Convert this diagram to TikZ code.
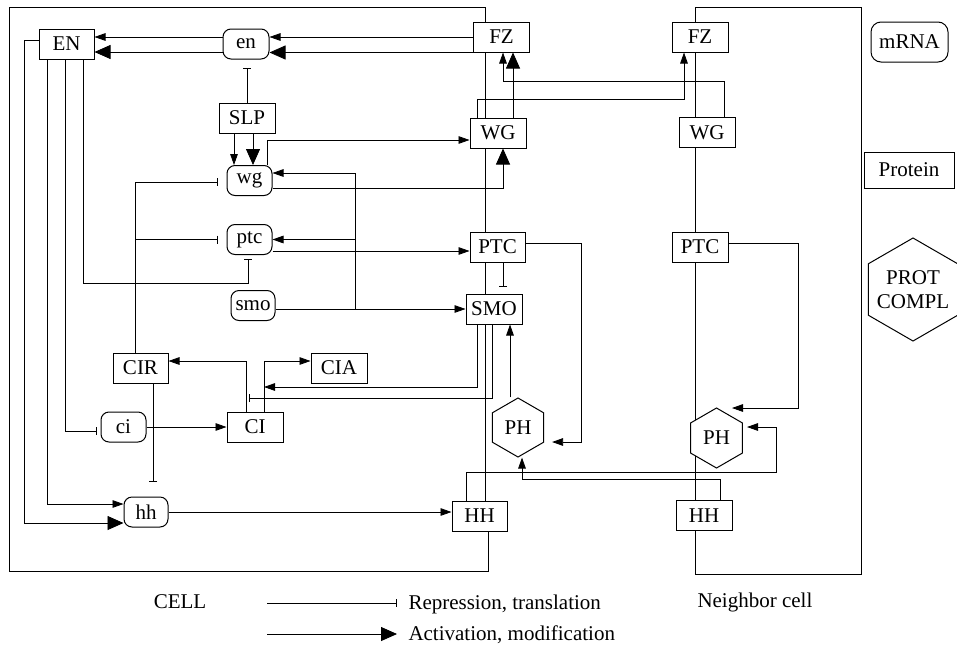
\documentclass[tikz,border=0pt]{standalone}
\usepackage{fontspec}
\setmainfont{Liberation Serif}
\usetikzlibrary{arrows.meta,shapes.geometric}
\pgfdeclarelayer{bg}
\pgfsetlayers{bg,main}
\begin{document}
\begin{tikzpicture}[x=0.5pt,y=-0.5pt,line width=0.5pt,
  font=\fontsize{10.5}{12}\selectfont,
  prot/.style={draw,fill=white,rectangle,minimum width=28pt,minimum height=15pt,inner sep=0pt},
  gene/.style={draw,fill=white,rounded corners=4pt,minimum width=22.5pt,minimum height=15pt,inner sep=0pt},
  hexa/.style={draw,fill=white,regular polygon,regular polygon sides=6,shape border rotate=30,inner sep=0pt},
  lbl/.style={inner sep=0pt},
  act/.style={-{Triangle[length=5.5pt,width=3.8pt]}},
  bigact/.style={-{Triangle[length=8pt,width=7pt]}},
  rep/.style={-{Bar[width=4pt]}}]
\useasboundingbox (0,0) rectangle (957,648);

% ---- left cell nodes
\node[prot,minimum width=27.5pt] (EN) at (66.5,44) {EN};
\node[gene,minimum width=23pt] (en) at (246,44) {en};
\node[prot] (SLP) at (247,118) {SLP};
\node[gene] (wg) at (249.5,180.5) {wg};
\node[gene] (ptc) at (249.5,239.5) {ptc};
\node[gene,minimum width=22pt] (smo) at (253,305.5) {smo};
\node[prot] (FZL) at (501.5,37) {FZ};
\node[prot] (WGL) at (498,133) {WG};
\node[prot,minimum width=27.5pt] (PTCL) at (497.5,247) {PTC};
\node[prot] (SMO) at (494,309) {SMO};
\node[prot] (CIA) at (339,368) {CIA};
\node[prot,minimum width=27.5pt] (CIR) at (140.5,368) {CIR};
\node[prot] (CI) at (255,427) {CI};
\node[gene] (ci) at (123.5,427) {ci};
\node[gene,minimum width=22pt] (hh) at (146,512) {hh};
\node[prot,minimum width=27.5pt] (HHL) at (479.5,516) {HH};
\node[hexa,minimum size=29.5pt] (PHL) at (518,427.5) {PH};
% ---- neighbour cell nodes
\node[prot] (FZR) at (700,37) {FZ};
\node[prot] (WGR) at (707,132.5) {WG};
\node[prot] (PTCR) at (700,247) {PTC};
\node[prot] (HHR) at (704,515.5) {HH};
\node[hexa,minimum size=30pt] (PHR) at (716.5,438) {PH};
% ---- legend
\node[gene,minimum width=38.5pt,minimum height=20pt,rounded corners=5pt] (mRNA) at (909.5,42) {mRNA};
\node[prot,minimum width=45pt,minimum height=18pt] (Protein) at (909,170) {Protein};
\node[hexa,minimum size=51.5pt] (PROT) at (913,289.5) {};
\node[lbl,align=center] (PROTt) at (PROT.center) {PROT\\COMPL};
\node[lbl] (cell) at (180,602) {CELL};
\node[lbl,anchor=west] (ncell) at (697,602) {Neighbor cell};
\node[lbl,anchor=west] (lrep) at (408,604) {Repression, translation};
\node[lbl,anchor=west] (lact) at (408,635) {Activation, modification};
\coordinate (lr0) at (267,603);
\coordinate (la0) at (267,634);

\begin{pgfonlayer}{bg}
% cell outlines
\draw (485,516) -- (485,7) -- (9,7) -- (9,571) -- (488,571) -- (488,516);
\draw (695,7) rectangle (861,574);
% legend arrows
\draw[rep] (lr0) -- (397,603);
\draw[bigact] (la0) -- (397,634);
% FZ -> en, en -> EN
\draw[act] (FZL.west) -- (en.east |- FZL.west);
\draw[bigact] (FZL.south west) -- (en.east |- FZL.south west);
\draw[act] (en.west |- 0,37) -- (EN.east |- 0,37);
\draw[bigact] (en.west |- 0,52) -- (EN.east |- 0,52);
% SLP
\draw[rep,shorten >=4pt] (SLP.north) -- (SLP.north |- en.south);
\draw[act] (SLP.south -| 234,0) -- (wg.north -| 234,0);
\draw[bigact] (SLP.south -| 253,0) -- (wg.north -| 253,0);
% wg -> WG
\draw[act] (wg.north -| 267,0) |- (WGL.west |- 0,140);
\draw[bigact] (wg.east |- 0,188) -| (WGL.south -| 503,0);
% smo line and branches
\coordinate (jsmo) at (355,309);
\draw[act] (smo.east |- jsmo) -- (SMO.west |- jsmo);
\draw[act] (jsmo) |- (wg.east |- 0,173);
\draw[act] (jsmo |- 0,239.5) -- (ptc.east);
% ptc, PTC
\draw[act] (ptc.east |- 0,251) -- (PTCL.west |- 0,251);
\draw[rep,shorten >=3.5pt] (PTCL.south -| 503,0) -- (SMO.north -| 503,0);
\draw[act,shorten >=4pt] (PTCL.east |- 0,243) -- (581,243) |- (PHL.east |- 0,442);
\draw[act] (PHL.north -| 510,0) -- (SMO.south -| 510,0);
% SMO -> CI branches
\draw[act] (SMO.south -| 477,0) |- (264,387);
\draw[rep] (SMO.south -| 492,0) |- (249,398);
\draw[act] (CI.north -| 246,0) |- (CIR.east |- 0,361);
\draw[act] (CI.north -| 264,0) |- (CIA.west |- 0,361);
\draw[act] (ci.east) -- (CI.west);
% CIR repressions
\draw[rep,shorten >=7.5pt] (CIR.south -| 153,0) -- (hh.north -| 153,0);
\draw[rep,shorten >=4.5pt] (CIR.north -| 135,0) |- (wg.west |- 0,182);
\draw[rep,shorten >=4.5pt] (ptc.west -| 135,0) -- (ptc.west);
% EN outputs
\draw[bigact] (EN.west |- 0,40) -- (24,40) |- (hh.west |- 0,523);
\draw[act] (EN.south -| 47,0) |- (hh.west |- 0,504);
\draw[rep,shorten >=2pt] (EN.south -| 65,0) |- (ci.west |- 0,431);
\draw[rep,shorten >=2pt] (EN.south -| 83,0) |- (248,283) -- (ptc.south -| 248,0);
% hh -> HH
\draw[act] (hh.east) -- (HHL.west |- hh.east);
% between cells
\draw[act,shorten >=2pt] (HHL.north -| 466,0) |- (776,472) |- (PHR.east |- 0,427);
\draw[act] (HHR.north -| 720,0) |- (522,479) -- (PHL.south -| 522,0);
\draw[act] (PTCR.east |- 0,243) -- (798,243) |- (732,408);
\draw[act] (WGL.north -| 477,0) |- (684,99) -- (FZR.south -| 684,0);
\draw[act] (WGR.north -| 724,0) |- (503,81) -- (FZL.south -| 503,0);
\draw[bigact] (WGL.north -| 513,0) -- (FZL.south -| 513,0);
\end{pgfonlayer}
\end{tikzpicture}
\end{document}
